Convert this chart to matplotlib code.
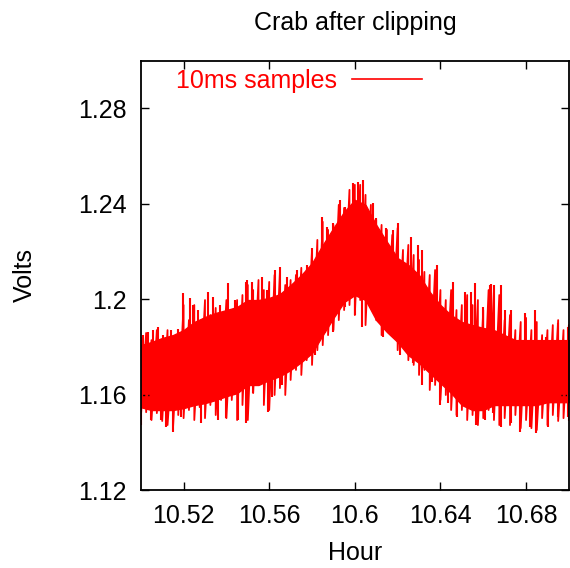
import numpy as np
import matplotlib
matplotlib.use("Agg")
import matplotlib.pyplot as plt
from matplotlib.lines import Line2D

plt.rcParams['font.family'] = ['Liberation Sans', 'DejaVu Sans']

# dense band of the 10ms samples (lower / upper edge)
hour = [10.500, 10.505, 10.510, 10.515, 10.520, 10.525, 10.530, 10.535, 10.540,
        10.545, 10.550, 10.555, 10.560, 10.565, 10.570, 10.575, 10.580, 10.585,
        10.590, 10.595, 10.600, 10.605, 10.610, 10.615, 10.620, 10.625, 10.630,
        10.635, 10.640, 10.645, 10.650, 10.655, 10.660, 10.665, 10.670, 10.675,
        10.680, 10.685, 10.690, 10.695, 10.700]
band_hi = [1.1808, 1.1821, 1.1838, 1.1850, 1.1871, 1.1905, 1.1926, 1.1943, 1.1955,
           1.1968, 1.1997, 1.1997, 1.2006, 1.2022, 1.2060, 1.2102, 1.2152, 1.2228,
           1.2299, 1.2367, 1.2417, 1.2396, 1.2312, 1.2241, 1.2173, 1.2144, 1.2102,
           1.2031, 1.1976, 1.1934, 1.1905, 1.1892, 1.1880, 1.1871, 1.1850, 1.1829,
           1.1829, 1.1829, 1.1829, 1.1829, 1.1829]
band_lo = [1.1548, 1.1536, 1.1536, 1.1536, 1.1544, 1.1557, 1.1565, 1.1578, 1.1594,
           1.1607, 1.1641, 1.1641, 1.1662, 1.1678, 1.1704, 1.1737, 1.1775, 1.1850,
           1.1922, 1.1989, 1.2018, 1.1997, 1.1913, 1.1863, 1.1821, 1.1766, 1.1733,
           1.1691, 1.1649, 1.1607, 1.1557, 1.1536, 1.1536, 1.1557, 1.1557, 1.1557,
           1.1557, 1.1557, 1.1569, 1.1569, 1.1569]

# ragged edge of the trace, one high and one low sample every 0.0025 h
edge_hour = np.linspace(10.50, 10.70, 81)
edge_hi = [1.1838, 1.1859, 1.1829, 1.1871, 1.1821, 1.1871, 1.1808, 1.1863, 1.1976,
           1.1913, 1.1976, 1.1892, 1.1997, 1.1934, 1.1964, 1.1913, 1.1997, 1.1947,
           1.1997, 1.2018, 1.2060, 1.2039, 1.2081, 1.2039, 1.2073, 1.2102, 1.2115,
           1.2060, 1.2081, 1.2102, 1.2132, 1.2123, 1.2207, 1.2249, 1.2325, 1.2291,
           1.2312, 1.2396, 1.2383, 1.2459, 1.2480, 1.2480, 1.2438, 1.2396, 1.2333,
           1.2312, 1.2291, 1.2270, 1.2299, 1.2207, 1.2228, 1.2186, 1.2165, 1.2115,
           1.2102, 1.2123, 1.2039, 1.1997, 1.2039, 1.1955, 1.1976, 1.2018, 1.1976,
           1.1997, 1.1955, 1.2039, 1.2039, 1.2018, 1.1913, 1.1934, 1.1871, 1.1905,
           1.1922, 1.1871, 1.1905, 1.1850, 1.1871, 1.1892, 1.1913, 1.1871, 1.1892]
edge_lo = [1.1502, 1.1527, 1.1494, 1.1523, 1.1490, 1.1473, 1.1452, 1.1515, 1.1502,
           1.1536, 1.1494, 1.1548, 1.1502, 1.1557, 1.1515, 1.1578, 1.1502, 1.1578,
           1.1494, 1.1557, 1.1494, 1.1607, 1.1662, 1.1557, 1.1536, 1.1599, 1.1628,
           1.1599, 1.1662, 1.1704, 1.1683, 1.1745, 1.1725, 1.1787, 1.1808, 1.1850,
           1.1871, 1.1913, 1.1955, 1.1976, 1.1934, 1.1997, 1.1892, 1.1964, 1.1913,
           1.1850, 1.1871, 1.1850, 1.1787, 1.1808, 1.1745, 1.1725, 1.1683, 1.1704,
           1.1620, 1.1641, 1.1578, 1.1599, 1.1536, 1.1515, 1.1536, 1.1494, 1.1515,
           1.1473, 1.1502, 1.1536, 1.1494, 1.1473, 1.1502, 1.1473, 1.1515, 1.1460,
           1.1494, 1.1460, 1.1452, 1.1502, 1.1473, 1.1515, 1.1490, 1.1502, 1.1494]

# single samples sticking out above the band
up_hour = [10.5011, 10.5034, 10.5057, 10.5081, 10.5104, 10.5141, 10.5174, 10.5198,
           10.5230, 10.5244, 10.5268, 10.5314, 10.5338, 10.5370, 10.5408, 10.5440,
           10.5492, 10.5496, 10.5520, 10.5567, 10.5590, 10.5627, 10.5651, 10.5683,
           10.5730, 10.5777, 10.5800, 10.5847, 10.5870, 10.5898, 10.5931, 10.5954,
           10.5991, 10.6015, 10.6038, 10.6085, 10.6099, 10.6145, 10.6178, 10.6201,
           10.6262, 10.6294, 10.6313, 10.6383, 10.6412, 10.6458, 10.6482, 10.6514,
           10.6542, 10.6561, 10.6598, 10.6631, 10.6636, 10.6650, 10.6682, 10.6701,
           10.6729, 10.6794, 10.6841, 10.6892, 10.6948, 10.6995]
up_volt = [1.1850, 1.1863, 1.1871, 1.1884, 1.1850, 1.1871, 1.1876, 1.2027,
           1.2006, 1.1976, 1.1955, 1.2031, 1.2010, 1.1976, 1.2069, 1.1997,
           1.2073, 1.2081, 1.2073, 1.2094, 1.2039, 1.2123, 1.2136, 1.2094,
           1.2123, 1.2144, 1.2215, 1.2346, 1.2304, 1.2320, 1.2417, 1.2387,
           1.2488, 1.2492, 1.2501, 1.2404, 1.2341, 1.2299, 1.2291, 1.2320,
           1.2262, 1.2228, 1.2207, 1.2144, 1.1943, 1.2073, 1.1913, 1.2031,
           1.2031, 1.2069, 1.1968, 1.2060, 1.2064, 1.2060, 1.2060, 1.1955,
           1.1955, 1.1943, 1.1955, 1.1842, 1.1901, 1.1884]

# single samples dropping below the band
down_hour = [10.5001, 10.5048, 10.5095, 10.5118, 10.5151, 10.5188, 10.5282, 10.5361,
             10.5398, 10.5454, 10.5492, 10.5524, 10.5557, 10.5594, 10.5613, 10.5660,
             10.5721, 10.5758, 10.5814, 10.5861, 10.5898, 10.5954, 10.6001, 10.6033,
             10.6071, 10.6131, 10.6178, 10.6211, 10.6272, 10.6314, 10.6360, 10.6398,
             10.6435, 10.6477, 10.6566, 10.6608, 10.6645, 10.6682, 10.6729, 10.6771,
             10.6818, 10.6846, 10.6902, 10.6948, 10.6995]
down_volt = [1.1473, 1.1494, 1.1494, 1.1464, 1.1443, 1.1506, 1.1481, 1.1494,
             1.1502, 1.1494, 1.1481, 1.1607, 1.1670, 1.1527, 1.1590, 1.1641,
             1.1716, 1.1754, 1.1766, 1.1859, 1.1863, 1.1968, 1.1934, 1.1884,
             1.1968, 1.1842, 1.1859, 1.1766, 1.1733, 1.1641, 1.1653, 1.1557,
             1.1565, 1.1506, 1.1473, 1.1494, 1.1523, 1.1464, 1.1481, 1.1443,
             1.1464, 1.1439, 1.1464, 1.1506, 1.1506]

x_ticks = [10.52, 10.56, 10.6, 10.64, 10.68]
x_labels = ["10.52", "10.56", "10.6", "10.64", "10.68"]
y_ticks = [1.12, 1.16, 1.2, 1.24, 1.28]
y_labels = ["1.12", "1.16", "1.2", "1.24", "1.28"]

fs = 18
fig = plt.figure(figsize=(5.70, 5.68), dpi=100)
ax = fig.add_axes([0.247, 0.137, 0.751, 0.756])

# core of the trace
ax.fill_between(hour, band_lo, band_hi, color='red', lw=1.0)

# zigzag through the ragged edge samples, hi -> lo -> hi ...
zz_x = np.repeat(edge_hour, 2)
zz_y = np.ravel(np.column_stack([edge_hi, edge_lo]))
ax.plot(zz_x, zz_y, color='red', lw=1.3)

mid = (np.array(band_hi) + np.array(band_lo)) / 2
ax.vlines(up_hour, np.interp(up_hour, hour, mid), up_volt, color='red', lw=1.5)
ax.vlines(down_hour, down_volt, np.interp(down_hour, hour, mid), color='red', lw=1.5)

ax.set_xlim(10.50, 10.70)
ax.set_ylim(1.12, 1.30)
ax.set_xticks(x_ticks, x_labels)
ax.set_yticks(y_ticks, y_labels)
ax.tick_params(direction='in', length=6, width=1, top=True, right=True,
               labelsize=fs, pad=10)
for s in ax.spines.values():
    s.set_linewidth(1.3)

ax.set_title("Crab after clipping", fontsize=fs, pad=22)
ax.set_xlabel("Hour", fontsize=fs, labelpad=9)
ax.set_ylabel("Volts", fontsize=fs, labelpad=30)

h = Line2D([], [], color='red', lw=1.2)
ax.legend([h], ["10ms samples"], loc='upper left', bbox_to_anchor=(0.029, 1.033),
          frameon=False, fontsize=fs, markerfirst=False, labelcolor='red',
          handlelength=2.8, handletextpad=0.6)

fig.savefig("out.png")
